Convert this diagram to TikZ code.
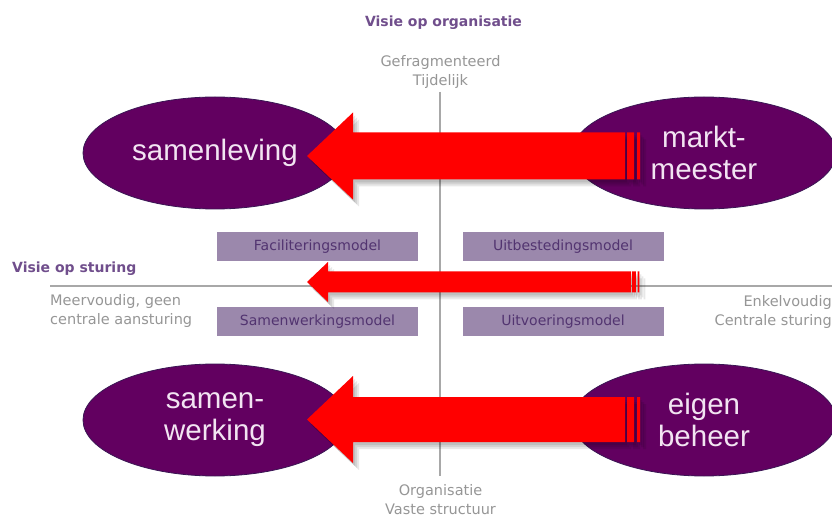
\documentclass[tikz,border=0pt]{standalone}
\usepackage{fontspec}
\setmainfont{DejaVu Sans}
\newfontfamily\arialfont{Liberation Sans}
\usetikzlibrary{shapes.geometric, positioning}

\definecolor{paars}{RGB}{98,0,96}
\definecolor{paarsrand}{RGB}{58,22,84}
\definecolor{lila}{RGB}{155,136,172}
\definecolor{lilatekst}{RGB}{82,52,112}
\definecolor{kopkleur}{RGB}{112,78,140}
\definecolor{grijs}{RGB}{150,150,150}
\definecolor{lijn}{RGB}{168,168,168}
\definecolor{licht}{RGB}{242,228,242}

% tip x, y, half shaft, half head, head back x, tail x, stripe scale
\newcommand{\pijlvorm}[7]{%
  (#1,#2) -- (#5,#2-#4) -- (#5,#2-#3) -- (#6,#2-#3) -- (#6,#2+#3)
  -- (#5,#2+#3) -- (#5,#2+#4) -- cycle
  (#6+2*#7,#2-#3) rectangle (#6+9*#7,#2+#3)
  (#6+12*#7,#2-#3) rectangle (#6+15*#7,#2+#3)}
\newcommand{\blokpijl}[7]{%
  \foreach \s in {2,4,6}
    \fill[schaduw, shift={(\s,\s+1)}] \pijlvorm{#1}{#2}{#3}{#4}{#5}{#6}{#7};
  \fill[red] \pijlvorm{#1}{#2}{#3}{#4}{#5}{#6}{#7};}

\tikzset{
  visie/.style={ellipse, fill=paars, draw=paarsrand, line width=0.8pt,
    minimum width=264pt, minimum height=112pt, inner sep=0pt, text=licht,
    font=\arialfont\fontsize{29.5}{32}\selectfont, align=center},
  model/.style={fill=lila, minimum width=201pt, minimum height=28.5pt,
    inner sep=0pt, text=lilatekst, font=\fontsize{14}{16}\selectfont},
  as/.style={draw=lijn, line width=1.6pt},
  asnaam/.style={text=grijs, font=\fontsize{14.5}{19}\selectfont, inner sep=0pt},
  kop/.style={text=kopkleur, font=\bfseries\fontsize{14}{16}\selectfont, inner sep=0pt},
  schaduw/.style={fill=black, opacity=0.09}
}

\begin{document}
\begin{tikzpicture}[x=1pt, y=-1pt, on grid]
  \useasboundingbox (0,0) rectangle (832,518);
  \fill[white] (0,0) rectangle (832,518);
  \clip (0,0) rectangle (832,518);

  % assen
  \coordinate (boven) at (440,92);
  \coordinate (onder) at (440,476);
  \coordinate (links) at (50,286);
  \coordinate (rechts) at (832,286);
  \draw[as] (boven) -- (onder);
  \draw[as] (links) -- (rechts);

  % visies
  \node[visie] (samenleving) at (215,153) {samenleving};
  \node[visie] (marktmeester) [right=489pt of samenleving] {markt-\\meester};
  \node[visie] (samenwerking) [below=267pt of samenleving] {samen-\\werking};
  \node[visie] (eigenbeheer) [right=489pt of samenwerking] {eigen\\beheer};

  % modellen
  \node[model] (facilitering) at (317.5,246.5) {Faciliteringsmodel};
  \node[model] (uitbesteding) [right=245.5pt of facilitering] {Uitbestedingsmodel};
  \node[model] (samenwerkingsmodel) [below=75pt of facilitering] {Samenwerkingsmodel};
  \node[model] (uitvoering) [right=245.5pt of samenwerkingsmodel] {Uitvoeringsmodel};

  % teksten bij de assen
  \node[kop, anchor=base] (organisatie) at (443.5,27) {Visie op organisatie};
  \node[kop, anchor=base west] (sturing) at (12,273) {Visie op sturing};
  \node[asnaam, align=center] (gefragmenteerd) at (440.5,72) {Gefragmenteerd\\Tijdelijk};
  \node[asnaam, align=center] (vast) at (440.5,500) {Organisatie\\Vaste structuur};
  \node[asnaam, align=left, anchor=west] (meervoudig) at (50,311) {Meervoudig, geen\\centrale aansturing};
  \node[asnaam, align=right, anchor=east] (enkelvoudig) at (832,312) {Enkelvoudig\\Centrale sturing};

  % pijlen
  \blokpijl{307}{156}{23.5}{43.5}{353}{625}{1}
  \blokpijl{307}{282}{10.5}{20}{328}{631}{0.55}
  \blokpijl{307}{419.5}{22.5}{43.5}{353}{625}{1}
\end{tikzpicture}
\end{document}
